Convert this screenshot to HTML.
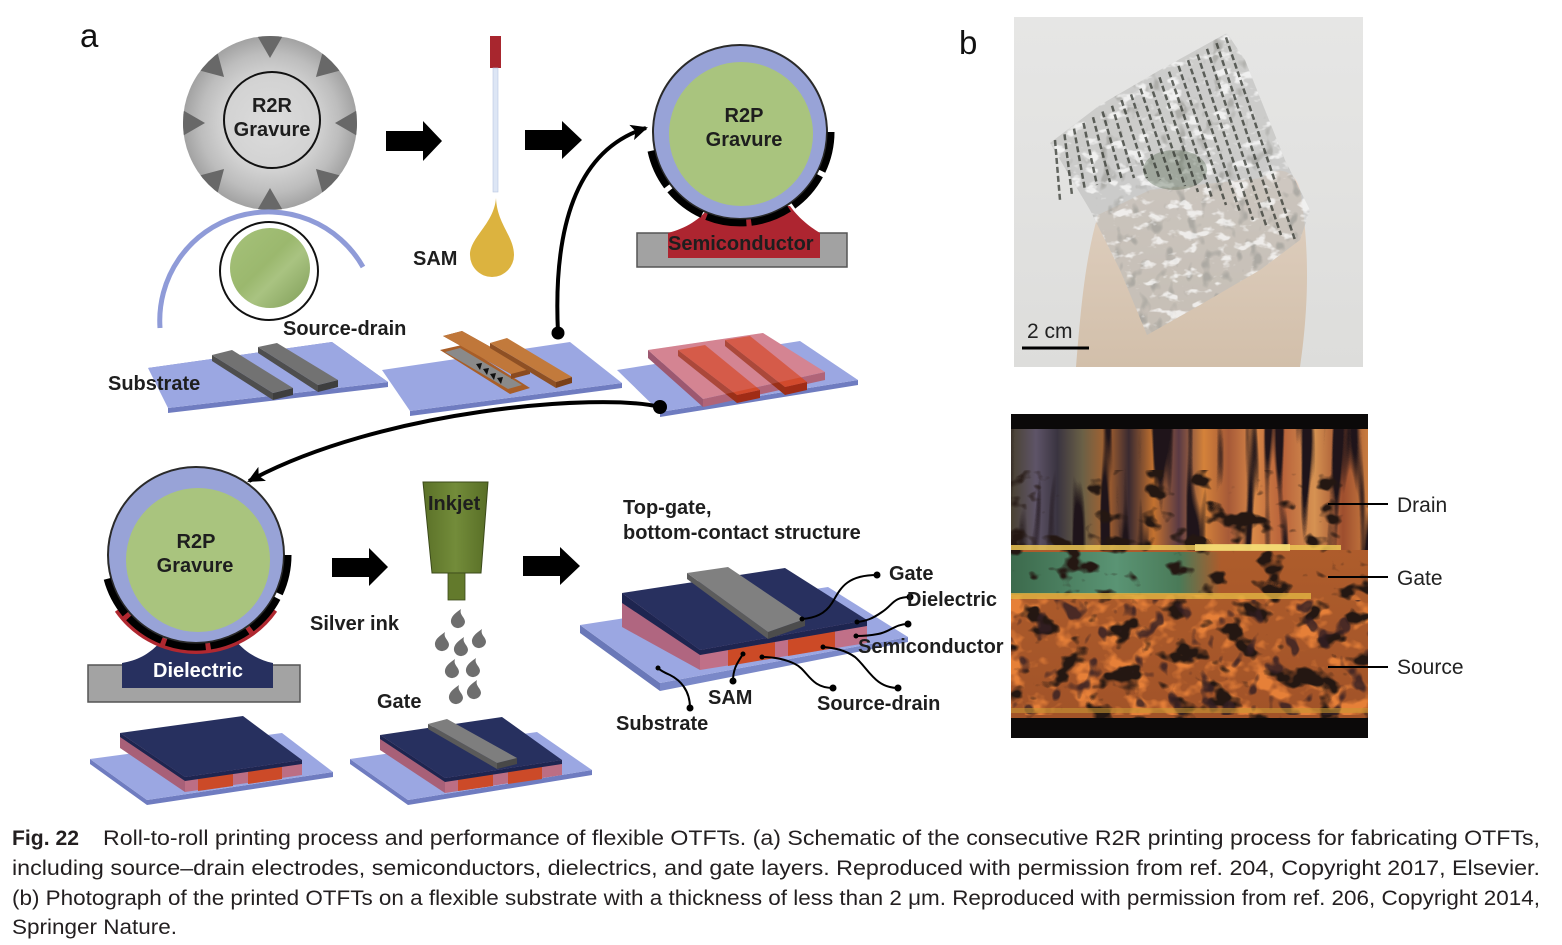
<!DOCTYPE html>
<html><head><meta charset="utf-8"><style>
html,body{margin:0;padding:0;background:#fff;}
svg{display:block;}
.b{font-family:"Liberation Sans",Arial,sans-serif;font-weight:bold;font-size:20px;fill:#1e1e1e;}
.r{font-family:"Liberation Sans",Arial,sans-serif;font-size:21px;fill:#222;}
.cap{font-family:"Liberation Sans",Arial,sans-serif;font-size:21px;fill:#231f20;}
</style></head><body>
<svg width="1562" height="945" viewBox="0 0 1562 945" xmlns="http://www.w3.org/2000/svg">
<defs>
  <radialGradient id="grayRoll" cx="0.5" cy="0.5" r="0.5">
    <stop offset="0" stop-color="#dcdcdc"/><stop offset="0.55" stop-color="#d2d2d2"/>
    <stop offset="0.8" stop-color="#bdbdbd"/><stop offset="1" stop-color="#a2a2a2"/>
  </radialGradient>
  <linearGradient id="green" x1="0" y1="0" x2="1" y2="1">
    <stop offset="0" stop-color="#a6c27a"/><stop offset="0.45" stop-color="#9bb86e"/>
    <stop offset="0.6" stop-color="#a9c381"/><stop offset="1" stop-color="#7e9c56"/>
  </linearGradient>
  <linearGradient id="ink" x1="0" y1="0" x2="1" y2="0">
    <stop offset="0" stop-color="#5b7128"/><stop offset="0.5" stop-color="#738c3a"/><stop offset="1" stop-color="#586e26"/>
  </linearGradient>
  <clipPath id="rollClip"><circle cx="270" cy="123" r="87"/></clipPath>
  <clipPath id="micClip"><rect x="1011" y="414" width="357" height="324"/></clipPath>
  <clipPath id="phClip"><rect x="1014" y="17" width="349" height="350"/></clipPath>
  <clipPath id="filmClip"><polygon points="1050,143 1100,105 1160,70 1227,33 1245,60 1265,110 1285,160 1310,210 1300,240 1260,270 1200,305 1147,335 1120,270 1090,210"/></clipPath>
  <marker id="ah" markerUnits="userSpaceOnUse" markerWidth="20" markerHeight="18" refX="15" refY="8" orient="auto">
    <path d="M0,0 L17,8 L0,16 L4,8 Z" fill="#000"/>
  </marker>
  <linearGradient id="topStreaks" x1="0" y1="0" x2="1" y2="0">
    <stop offset="0" stop-color="#4a4232"/><stop offset="0.07" stop-color="#5e5468"/>
    <stop offset="0.13" stop-color="#3a3440"/><stop offset="0.2" stop-color="#6a6046"/>
    <stop offset="0.27" stop-color="#a8622f"/><stop offset="0.33" stop-color="#3a2a30"/>
    <stop offset="0.4" stop-color="#c4722f"/><stop offset="0.47" stop-color="#5a3a44"/>
    <stop offset="0.54" stop-color="#d4823a"/><stop offset="0.61" stop-color="#a65a38"/>
    <stop offset="0.68" stop-color="#d88848"/><stop offset="0.76" stop-color="#b8623a"/>
    <stop offset="0.85" stop-color="#d69252"/><stop offset="0.93" stop-color="#9e4e2e"/>
    <stop offset="1" stop-color="#c87c40"/>
  </linearGradient>
  <linearGradient id="greenBand" x1="0" y1="0" x2="1" y2="0">
    <stop offset="0" stop-color="#3c6a4c"/><stop offset="0.5" stop-color="#5a9474"/>
    <stop offset="0.8" stop-color="#4a7a58"/><stop offset="1" stop-color="#4a7a58" stop-opacity="0"/>
  </linearGradient>
  <linearGradient id="lowerBase" x1="0" y1="0" x2="0" y2="1">
    <stop offset="0" stop-color="#b8642e"/><stop offset="1" stop-color="#a05228"/>
  </linearGradient>
  <filter id="blot" filterUnits="objectBoundingBox" x="0" y="0" width="1" height="1" color-interpolation-filters="sRGB">
    <feTurbulence type="fractalNoise" baseFrequency="0.035 0.045" numOctaves="3" seed="7"/>
    <feColorMatrix type="matrix" values="0 0 0 0 0.14  0 0 0 0 0.09  0 0 0 0 0.07  -8 0 0 0 3.5"/>
  </filter>
  <filter id="blot2" filterUnits="objectBoundingBox" x="0" y="0" width="1" height="1" color-interpolation-filters="sRGB">
    <feTurbulence type="fractalNoise" baseFrequency="0.06 0.05" numOctaves="2" seed="21"/>
    <feColorMatrix type="matrix" values="0 0 0 0 0.2  0 0 0 0 0.12  0 0 0 0 0.14  -9 0 0 0 3.6"/>
  </filter>
  <filter id="bright" filterUnits="objectBoundingBox" x="0" y="0" width="1" height="1" color-interpolation-filters="sRGB">
    <feTurbulence type="fractalNoise" baseFrequency="0.04 0.05" numOctaves="3" seed="11"/>
    <feColorMatrix type="matrix" values="0 0 0 0 0.9  0 0 0 0 0.5  0 0 0 0 0.22  6 0 0 0 -3.1"/>
  </filter>
  <filter id="streak" filterUnits="objectBoundingBox" x="0" y="0" width="1" height="1" color-interpolation-filters="sRGB">
    <feTurbulence type="fractalNoise" baseFrequency="0.07 0.006" numOctaves="2" seed="5"/>
    <feColorMatrix type="matrix" values="0 0 0 0 0.12  0 0 0 0 0.08  0 0 0 0 0.1  -7 0 0 0 3.3"/>
  </filter>
  <filter id="filmHi" filterUnits="objectBoundingBox" x="0" y="0" width="1" height="1" color-interpolation-filters="sRGB">
    <feTurbulence type="fractalNoise" baseFrequency="0.06 0.1" numOctaves="3" seed="4"/>
    <feColorMatrix type="matrix" values="0 0 0 0 1  0 0 0 0 1  0 0 0 0 1  7 0 0 0 -3.9"/>
  </filter>
  <filter id="filmDk" filterUnits="objectBoundingBox" x="0" y="0" width="1" height="1" color-interpolation-filters="sRGB">
    <feTurbulence type="fractalNoise" baseFrequency="0.08 0.06" numOctaves="2" seed="9"/>
    <feColorMatrix type="matrix" values="0 0 0 0 0.6  0 0 0 0 0.6  0 0 0 0 0.58  -6 0 0 0 2.5"/>
  </filter>
  <linearGradient id="phBg" x1="0" y1="0" x2="0" y2="1">
    <stop offset="0" stop-color="#e6e6e5"/><stop offset="1" stop-color="#dddddb"/>
  </linearGradient>
  <linearGradient id="hand" x1="0" y1="0" x2="0" y2="1">
    <stop offset="0" stop-color="#e0d1c2"/><stop offset="1" stop-color="#d2bfaa"/>
  </linearGradient>
</defs>

<rect width="1562" height="945" fill="#fff"/>

<text x="80" y="47" font-family="Liberation Sans, Arial, sans-serif" font-size="33" fill="#111">a</text>
<text x="959" y="54" font-family="Liberation Sans, Arial, sans-serif" font-size="33" fill="#111">b</text>

<!-- ===== R2R gravure ===== -->
<circle cx="270" cy="123" r="87" fill="url(#grayRoll)"/>
<g clip-path="url(#rollClip)" fill="#686868">
  <polygon points="255,32 285,32 270,58"/>
  <polygon points="255,32 285,32 270,58" transform="rotate(45 270 123)"/>
  <polygon points="255,32 285,32 270,58" transform="rotate(90 270 123)"/>
  <polygon points="255,32 285,32 270,58" transform="rotate(135 270 123)"/>
  <polygon points="255,32 285,32 270,58" transform="rotate(180 270 123)"/>
  <polygon points="255,32 285,32 270,58" transform="rotate(225 270 123)"/>
  <polygon points="255,32 285,32 270,58" transform="rotate(270 270 123)"/>
  <polygon points="255,32 285,32 270,58" transform="rotate(315 270 123)"/>
</g>
<circle cx="272" cy="120" r="48" fill="none" stroke="#111" stroke-width="2"/>
<text class="b" x="272" y="112" text-anchor="middle">R2R</text>
<text class="b" x="272" y="136" text-anchor="middle">Gravure</text>

<path d="M160,328 A108.7,108.7 0 0 1 363,267" fill="none" stroke="#8f9bd8" stroke-width="5"/>
<circle cx="269" cy="271" r="49" fill="none" stroke="#111" stroke-width="2"/>
<circle cx="270" cy="268" r="40" fill="url(#green)"/>

<polygon points="386,131 423,131 423,121 442,141 423,161 423,151 386,151" fill="#000"/>
<polygon points="525,130 562,130 562,121 582,140 562,159 562,150 525,150" fill="#000"/>
<polygon points="332,558 369,558 369,548 388,567 369,586 369,577 332,577" fill="#000"/>
<polygon points="523,556 560,556 560,547 580,566 560,585 560,576 523,576" fill="#000"/>

<rect x="490" y="36" width="11" height="32" fill="#a8262e"/>
<rect x="493" y="68" width="5" height="124" fill="#dde6f5" stroke="#b8c6e2" stroke-width="0.6"/>
<path d="M496,198 C497,224 514,236 514,255 A22,22 0 1 1 470,255 C470,237 494,224 496,198 Z" fill="#dcb33f"/>
<text class="b" x="413" y="265">SAM</text>

<!-- ===== R2P top ===== -->
<rect x="637" y="233" width="210" height="34" fill="#a2a2a2" stroke="#555" stroke-width="1.5"/>
<path d="M668,258 L668,233 C686,228 700,220 710,206 L790,206 C800,220 812,228 820,233 L820,258 Z" fill="#ad2530"/>
<circle cx="740" cy="132" r="87" fill="#98a3d7" stroke="#2a2a2a" stroke-width="2"/>
<circle cx="741" cy="134" r="72" fill="#a9c47e"/>
<path d="M831,132 A91,91 0 0 1 651,150.9" fill="none" stroke="#000" stroke-width="7" stroke-dasharray="40.5 5"/>
<text class="b" x="744" y="122" text-anchor="middle">R2P</text>
<text class="b" x="744" y="146" text-anchor="middle">Gravure</text>
<text class="b" x="668" y="250" fill="#111">Semiconductor</text>

<!-- slab 1 -->
<polygon points="148,368 332,342 388,382 168,408 168,413 388,387 388,382" fill="#6f7cc0"/>
<polygon points="148,368 332,342 388,382 168,408" fill="#9ba7e2"/>
<polygon points="212,355 273,393 273,400 212,361" fill="#4e4e4e"/>
<polygon points="273,393 293,388 293,395 273,400" fill="#3e3e3e"/>
<polygon points="212,355 232,350 293,388 273,393" fill="#727272"/>
<polygon points="258,347 318,385 318,392 258,353" fill="#4e4e4e"/>
<polygon points="318,385 338,380 338,387 318,392" fill="#3e3e3e"/>
<polygon points="258,347 277,343 338,380 318,385" fill="#727272"/>
<text class="b" x="108" y="390">Substrate</text>
<text class="b" x="283" y="335">Source-drain</text>

<!-- slab 2 -->
<polygon points="410,411 622,383 622,388 410,416" fill="#6f7cc0"/>
<polygon points="382,370 570,342 622,383 410,411" fill="#9ba7e2"/>
<polygon points="440,350 462,345 530,388 510,394" fill="#a85e28"/>
<polygon points="445,352 460,348 522,385 508,389" fill="#8a8a8a"/>
<g fill="#111">
  <polygon points="476,364 482,363 480,370"/><polygon points="483,369 489,368 487,375"/>
  <polygon points="490,374 496,373 494,380"/><polygon points="497,378 503,377 501,384"/>
</g>
<polygon points="443,336 462,331 530,369 530,374 511,379 511,374" fill="#8a4a20"/>
<polygon points="443,336 462,331 530,369 511,374" fill="#c0773a"/>
<polygon points="490,343 556,382 556,388 490,348" fill="#8e5024"/>
<polygon points="556,382 572,377 572,383 556,388" fill="#7a4018"/>
<polygon points="490,343 507,338 572,377 556,382" fill="#c27a3c"/>

<!-- slab 3 -->
<polygon points="660,412 858,380 858,385 660,417" fill="#6f7cc0"/>
<polygon points="617,370 800,341 858,380 660,412" fill="#9ba7e2"/>
<polygon points="648,350 703,399 703,407 648,358" fill="#9c5870"/>
<polygon points="703,399 825,372 825,380 703,407" fill="#b06478"/>
<polygon points="648,350 763,333 825,372 703,399" fill="#d0808e"/>
<polygon points="678,350 737,395 737,403 678,356" fill="#9a3018"/>
<polygon points="737,395 760,390 760,398 737,403" fill="#a02c16"/>
<polygon points="678,350 705,345 760,390 737,395" fill="#d24a2c"/>
<polygon points="725,340 785,387 785,395 725,346" fill="#9a3018"/>
<polygon points="785,387 807,382 807,390 785,395" fill="#a02c16"/>
<polygon points="725,340 750,336 807,382 785,387" fill="#d24a2c"/>
<polygon points="648,350 763,333 825,372 703,399" fill="#e090a0" opacity="0.25"/>

<!-- curved connectors -->
<path d="M558,333 C553,230 575,150 646,128" fill="none" stroke="#000" stroke-width="4" marker-end="url(#ah)"/>
<circle cx="558" cy="333" r="6.5" fill="#000"/>
<path d="M660,407 C600,392 380,410 249,481" fill="none" stroke="#000" stroke-width="4" marker-end="url(#ah)"/>
<circle cx="660" cy="407" r="7" fill="#000"/>

<!-- ===== R2P bottom ===== -->
<rect x="88" y="665" width="212" height="37" fill="#a3a3a3" stroke="#555" stroke-width="1.5"/>
<path d="M122,688 L122,663 C140,660 152,652 162,640 L235,640 C245,652 258,660 273,663 L273,688 Z" fill="#27305f"/>
<path d="M273,608.9 A94,94 0 0 1 119,608.9" fill="none" stroke="#b02830" stroke-width="10"/>
<circle cx="196" cy="555" r="88" fill="#98a3d7" stroke="#2a2a2a" stroke-width="2"/>
<circle cx="198" cy="560" r="72" fill="#a9c47e"/>
<path d="M288,555 A92,92 0 0 1 107.1,578.8" fill="none" stroke="#000" stroke-width="7" stroke-dasharray="40 5"/>
<text class="b" x="196" y="548" text-anchor="middle">R2P</text>
<text class="b" x="195" y="572" text-anchor="middle">Gravure</text>
<text class="b" x="153" y="677" style="fill:#fff">Dielectric</text>

<text class="b" x="310" y="630">Silver ink</text>

<polygon points="423,482 488,482 481,573 432,573" fill="url(#ink)" stroke="#3b4a1a" stroke-width="1"/>
<rect x="448" y="573" width="17" height="27" fill="#637a2c" stroke="#3b4a1a" stroke-width="0.8"/>
<text class="b" x="428" y="510" fill="#111">Inkjet</text>
<g fill="#6e6e6e">
  <path d="M4,-10 C2,-4 8,-2 8,3 A7,7 0 1 1 -6,1 C-5,-4 0,-7 4,-10 Z" transform="translate(457,619)"/>
  <path d="M4,-10 C2,-4 8,-2 8,3 A7,7 0 1 1 -6,1 C-5,-4 0,-7 4,-10 Z" transform="translate(441,642)"/>
  <path d="M4,-10 C2,-4 8,-2 8,3 A7,7 0 1 1 -6,1 C-5,-4 0,-7 4,-10 Z" transform="translate(460,647)"/>
  <path d="M4,-10 C2,-4 8,-2 8,3 A7,7 0 1 1 -6,1 C-5,-4 0,-7 4,-10 Z" transform="translate(478,639)"/>
  <path d="M4,-10 C2,-4 8,-2 8,3 A7,7 0 1 1 -6,1 C-5,-4 0,-7 4,-10 Z" transform="translate(451,669)"/>
  <path d="M4,-10 C2,-4 8,-2 8,3 A7,7 0 1 1 -6,1 C-5,-4 0,-7 4,-10 Z" transform="translate(472,668)"/>
  <path d="M4,-10 C2,-4 8,-2 8,3 A7,7 0 1 1 -6,1 C-5,-4 0,-7 4,-10 Z" transform="translate(455,695)"/>
  <path d="M4,-10 C2,-4 8,-2 8,3 A7,7 0 1 1 -6,1 C-5,-4 0,-7 4,-10 Z" transform="translate(473,690)"/>
</g>
<text class="b" x="377" y="708">Gate</text>

<!-- bottom-left device -->
<polygon points="90,759 147,800 147,805 90,764" fill="#6f7cc0"/>
<polygon points="147,800 333,772 333,777 147,805" fill="#6f7cc0"/>
<polygon points="90,759 282,733 333,772 147,800" fill="#9ba7e2"/>
<polygon points="120,733 185,777 185,792 120,748" fill="#a86078"/>
<polygon points="185,777 302,760 302,775 185,792" fill="#bc6e84"/>
<polygon points="198,776 233,771 233,786 198,791" fill="#cc4a28"/>
<polygon points="248,769 282,764 282,779 248,784" fill="#cc4a28"/>
<polygon points="120,733 185,777 185,781 120,737" fill="#1e2550"/>
<polygon points="185,777 302,760 302,764 185,781" fill="#1e2550"/>
<polygon points="120,733 243,716 302,760 185,777" fill="#27305f"/>

<!-- bottom-middle device -->
<polygon points="350,759 408,800 408,805 350,764" fill="#6f7cc0"/>
<polygon points="408,800 592,770 592,775 408,805" fill="#6f7cc0"/>
<polygon points="350,759 537,732 592,770 408,800" fill="#9ba7e2"/>
<polygon points="380,735 445,778 445,793 380,750" fill="#a86078"/>
<polygon points="445,778 562,760 562,775 445,793" fill="#bc6e84"/>
<polygon points="458,777 493,771 493,786 458,791" fill="#cc4a28"/>
<polygon points="508,769 542,764 542,779 508,784" fill="#cc4a28"/>
<polygon points="380,735 445,778 445,782 380,739" fill="#1e2550"/>
<polygon points="445,778 562,760 562,764 445,782" fill="#1e2550"/>
<polygon points="380,735 502,717 562,760 445,778" fill="#27305f"/>
<polygon points="428,724 497,763 497,769 428,729" fill="#5a5a5a"/>
<polygon points="497,763 517,758 517,764 497,769" fill="#484848"/>
<polygon points="428,724 447,719 517,758 497,763" fill="#7e7e7e"/>

<!-- ===== big device ===== -->
<text class="b" x="623" y="514">Top-gate,</text>
<text class="b" x="623" y="539">bottom-contact structure</text>
<polygon points="580,625 660,683 660,691 580,633" fill="#6a78b8"/>
<polygon points="660,683 908,637 908,642 660,691" fill="#7a88c8"/>
<polygon points="580,625 828,587 908,637 660,683" fill="#9ba7e2"/>
<polygon points="622,593 700,650 700,670 622,627" fill="#b06680"/>
<polygon points="700,650 867,620 867,643 700,670" fill="#c07088"/>
<polygon points="728,650 775,642 775,658 728,666" fill="#cc4a26"/>
<polygon points="788,640 835,631 835,648 788,656" fill="#cc4a26"/>
<polygon points="622,593 700,650 700,655 622,603" fill="#1e2550"/>
<polygon points="700,650 867,620 867,626 700,655" fill="#1e2550"/>
<polygon points="622,593 785,568 867,620 700,650" fill="#28305f"/>
<polygon points="687,573 768,632 768,639 687,579" fill="#5c5c5c"/>
<polygon points="768,632 805,619 805,626 768,639" fill="#4c4c4c"/>
<polygon points="687,573 728,567 805,619 768,632" fill="#808080"/>

<g fill="none" stroke="#000" stroke-width="2">
  <path d="M877,575 C845,575 840,590 832,603 C825,614 815,618 802,619"/>
  <path d="M910,597 C893,597 893,605 882,612 C872,619 866,621 857,622"/>
  <path d="M908,624 C895,624 890,632 878,634 C868,636 862,636 856,636"/>
  <path d="M733,681 C733,668 738,662 743,654"/>
  <path d="M833,688 C810,688 808,670 795,664 C785,659 775,657 762,657"/>
  <path d="M898,688 C875,688 868,668 855,657 C845,650 835,648 823,647"/>
  <path d="M690,708 C690,690 680,680 670,675 C663,672 660,670 658,668"/>
</g>
<g fill="#000">
  <circle cx="877" cy="575" r="3.5"/><circle cx="910" cy="597" r="3.5"/><circle cx="908" cy="624" r="3.5"/>
  <circle cx="733" cy="681" r="3.5"/><circle cx="833" cy="688" r="3.5"/><circle cx="898" cy="688" r="3.5"/>
  <circle cx="690" cy="708" r="3.5"/>
  <circle cx="802" cy="619" r="2.5"/><circle cx="857" cy="622" r="2.5"/><circle cx="856" cy="636" r="2.5"/>
  <circle cx="743" cy="654" r="2.5"/><circle cx="762" cy="657" r="2.5"/><circle cx="823" cy="647" r="2.5"/>
  <circle cx="658" cy="668" r="2.5"/>
</g>
<text class="b" x="889" y="580">Gate</text>
<text class="b" x="907" y="606">Dielectric</text>
<text class="b" x="858" y="653">Semiconductor</text>
<text class="b" x="708" y="704">SAM</text>
<text class="b" x="817" y="710">Source-drain</text>
<text class="b" x="616" y="730">Substrate</text>

<!-- ===== Photo 1 ===== -->
<g clip-path="url(#phClip)">
  <rect x="1014" y="17" width="349" height="350" fill="url(#phBg)"/>
  <path d="M1076,367 C1080,320 1084,262 1098,215 L1150,190 L1262,178 C1274,168 1295,170 1301,194 C1306,230 1312,285 1300,367 Z" fill="url(#hand)"/>
  <path d="M1268,176 C1276,166 1296,170 1300,190 C1290,196 1276,196 1268,176 Z" fill="#e9d6c8"/>
  <g clip-path="url(#filmClip)">
    <rect x="1040" y="30" width="280" height="310" fill="#bdbcba" opacity="0.6"/>
    <rect x="1040" y="30" width="280" height="310" filter="url(#filmDk)" opacity="0.6"/>
    <rect x="1040" y="30" width="280" height="310" filter="url(#filmHi)" opacity="0.7"/>
    <ellipse cx="1175" cy="170" rx="32" ry="20" fill="#4e6048" opacity="0.35"/>
  </g>
  <g stroke="#2f332c" stroke-width="2.5" stroke-dasharray="6 3" opacity="0.72">
    <line x1="1055" y1="140" x2="1060" y2="200"/>
    <line x1="1064.5" y1="134.3" x2="1072" y2="195"/>
    <line x1="1074" y1="128.6" x2="1085" y2="190"/>
    <line x1="1083.5" y1="122.9" x2="1097" y2="185"/>
    <line x1="1093" y1="117.2" x2="1110" y2="182"/>
    <line x1="1102.5" y1="111.5" x2="1122" y2="180"/>
    <line x1="1112" y1="105.8" x2="1134" y2="178"/>
    <line x1="1121.5" y1="100.1" x2="1147" y2="178"/>
    <line x1="1131" y1="94.4" x2="1160" y2="180"/>
    <line x1="1140.5" y1="88.7" x2="1172" y2="182"/>
    <line x1="1150" y1="83" x2="1185" y2="186"/>
    <line x1="1159.5" y1="77.3" x2="1198" y2="192"/>
    <line x1="1169" y1="71.6" x2="1212" y2="198"/>
    <line x1="1178.5" y1="65.9" x2="1226" y2="205"/>
    <line x1="1188" y1="60.2" x2="1240" y2="212"/>
    <line x1="1197.5" y1="54.5" x2="1253" y2="220"/>
    <line x1="1207" y1="48.8" x2="1267" y2="228"/>
    <line x1="1216.5" y1="43.1" x2="1281" y2="235"/>
    <line x1="1226" y1="37.4" x2="1295" y2="240"/>
  </g>
  <line x1="1022" y1="348" x2="1089" y2="348" stroke="#000" stroke-width="3"/>
  <text class="r" x="1027" y="338" fill="#111">2 cm</text>
</g>

<!-- ===== Micrograph ===== -->
<g clip-path="url(#micClip)">
  <rect x="1011" y="414" width="357" height="324" fill="url(#lowerBase)"/>
  <rect x="1011" y="428" width="357" height="122" fill="url(#topStreaks)"/>
  <rect x="1011" y="428" width="357" height="122" filter="url(#streak)"/>
  <rect x="1011" y="552" width="210" height="42" fill="url(#greenBand)"/>
  <rect x="1011" y="595" width="357" height="120" filter="url(#bright)"/>
  <rect x="1011" y="470" width="357" height="248" filter="url(#blot)"/>
  <rect x="1011" y="600" width="357" height="115" filter="url(#blot2)" opacity="0.8"/>
  <rect x="1011" y="545" width="330" height="5" fill="#ecc655" opacity="0.85"/>
  <rect x="1195" y="544" width="95" height="7" fill="#f6e07a" opacity="0.8"/>
  <rect x="1011" y="593" width="300" height="6" fill="#e2b442" opacity="0.8"/>
  <rect x="1011" y="708" width="357" height="5" fill="#c89634" opacity="0.6"/>
  <rect x="1011" y="414" width="357" height="15" fill="#0b0909"/>
  <rect x="1011" y="718" width="357" height="20" fill="#0b0909"/>
</g>
<g stroke="#000" stroke-width="2">
  <line x1="1328" y1="504" x2="1388" y2="504"/>
  <line x1="1328" y1="577" x2="1388" y2="577"/>
  <line x1="1328" y1="667" x2="1388" y2="667"/>
</g>
<text class="r" x="1397" y="512">Drain</text>
<text class="r" x="1397" y="585">Gate</text>
<text class="r" x="1397" y="674">Source</text>

<!-- ===== caption ===== -->
<text class="cap" x="12" y="845" font-weight="bold" textLength="67" lengthAdjust="spacingAndGlyphs">Fig. 22</text>
<text class="cap" x="103" y="845" textLength="1437" lengthAdjust="spacingAndGlyphs">Roll-to-roll printing process and performance of flexible OTFTs. (a) Schematic of the consecutive R2R printing process for fabricating OTFTs,</text>
<text class="cap" x="12" y="875" textLength="1528" lengthAdjust="spacingAndGlyphs">including source–drain electrodes, semiconductors, dielectrics, and gate layers. Reproduced with permission from ref. 204, Copyright 2017, Elsevier.</text>
<text class="cap" x="12" y="905" textLength="1528" lengthAdjust="spacingAndGlyphs">(b) Photograph of the printed OTFTs on a flexible substrate with a thickness of less than 2 μm. Reproduced with permission from ref. 206, Copyright 2014,</text>
<text class="cap" x="12" y="934" textLength="165" lengthAdjust="spacingAndGlyphs">Springer Nature.</text>
</svg>
</body></html>
